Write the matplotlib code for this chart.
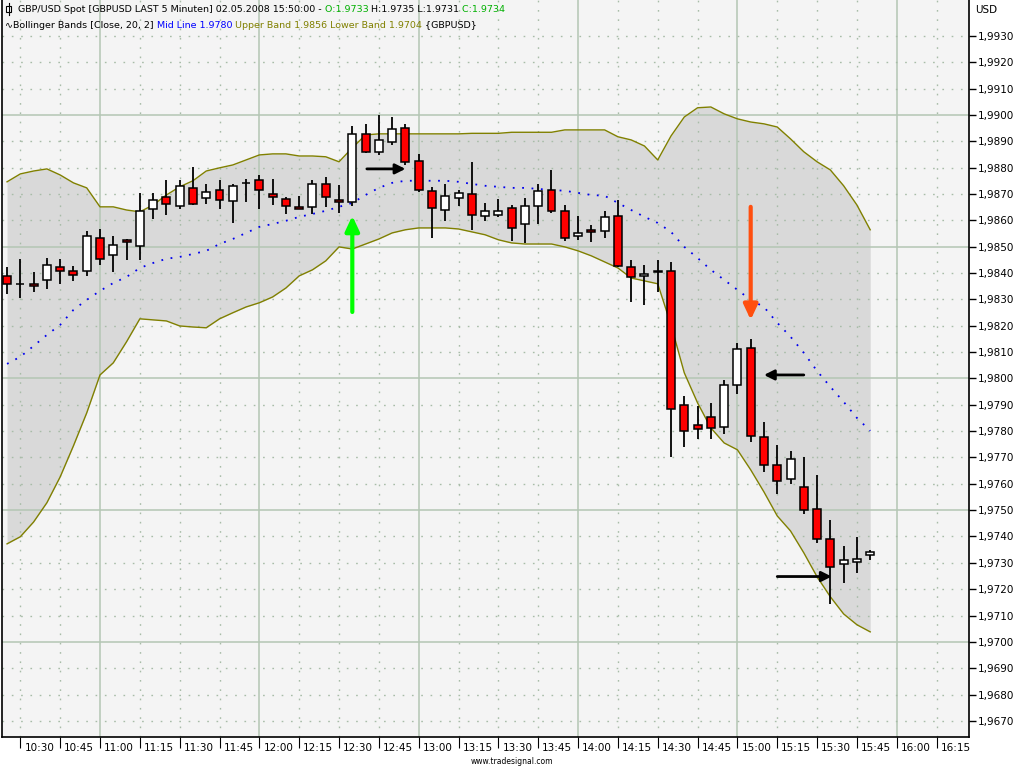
import matplotlib
matplotlib.use("Agg")
import matplotlib.pyplot as plt
from matplotlib.patches import FancyArrowPatch, Rectangle
from matplotlib.lines import Line2D
import matplotlib.transforms as mtransforms

# 5-minute bars, 10:25 .. 15:50
first_bar = "10:25"
bar_minutes = 5

opens = [1.98390, 1.98358, 1.98360, 1.98375, 1.98424, 1.98409, 1.98409, 1.98534, 1.98470, 1.98527,
         1.98504, 1.98641, 1.98690, 1.98656, 1.98724, 1.98686, 1.98716, 1.98675, 1.98741, 1.98751,
         1.98701, 1.98682, 1.98652, 1.98652, 1.98739, 1.98678, 1.98668, 1.98927, 1.98858, 1.98896,
         1.98949, 1.98824, 1.98710, 1.98638, 1.98684, 1.98699, 1.98615, 1.98619, 1.98646, 1.98585,
         1.98653, 1.98714, 1.98634, 1.98539, 1.98562, 1.98558, 1.98615, 1.98422, 1.98390, 1.98404,
         1.98409, 1.97900, 1.97824, 1.97854, 1.97816, 1.97976, 1.98116, 1.97778, 1.97672, 1.97618,
         1.97587, 1.97504, 1.97390, 1.97295, 1.97303, 1.97330]
highs = [1.98422, 1.98453, 1.98403, 1.98456, 1.98452, 1.98425, 1.98558, 1.98566, 1.98542, 1.98530,
         1.98703, 1.98703, 1.98751, 1.98751, 1.98804, 1.98739, 1.98751, 1.98739, 1.98758, 1.98770,
         1.98758, 1.98690, 1.98694, 1.98751, 1.98766, 1.98735, 1.98956, 1.98966, 1.99000, 1.98992,
         1.98966, 1.98852, 1.98725, 1.98738, 1.98715, 1.98822, 1.98665, 1.98680, 1.98657, 1.98684,
         1.98738, 1.98791, 1.98657, 1.98615, 1.98581, 1.98634, 1.98676, 1.98451, 1.98432, 1.98451,
         1.98441, 1.97935, 1.97897, 1.97905, 1.97992, 1.98133, 1.98148, 1.97833, 1.97748, 1.97725,
         1.97700, 1.97634, 1.97462, 1.97363, 1.97399, 1.97350]
lows = [1.98320, 1.98305, 1.98328, 1.98339, 1.98358, 1.98368, 1.98389, 1.98430, 1.98403, 1.98449,
        1.98449, 1.98605, 1.98620, 1.98644, 1.98659, 1.98663, 1.98644, 1.98591, 1.98670, 1.98641,
        1.98659, 1.98622, 1.98641, 1.98622, 1.98652, 1.98629, 1.98656, 1.98855, 1.98849, 1.98884,
        1.98808, 1.98706, 1.98534, 1.98599, 1.98656, 1.98565, 1.98599, 1.98611, 1.98523, 1.98515,
        1.98584, 1.98627, 1.98523, 1.98524, 1.98516, 1.98534, 1.98424, 1.98290, 1.98280, 1.98328,
        1.97701, 1.97739, 1.97770, 1.97770, 1.97789, 1.97941, 1.97758, 1.97643, 1.97563, 1.97601,
        1.97485, 1.97375, 1.97143, 1.97222, 1.97263, 1.97310]
closes = [1.98359, 1.98358, 1.98350, 1.98432, 1.98409, 1.98394, 1.98542, 1.98454, 1.98508, 1.98519,
          1.98637, 1.98678, 1.98663, 1.98732, 1.98663, 1.98709, 1.98678, 1.98732, 1.98741, 1.98716,
          1.98690, 1.98656, 1.98644, 1.98739, 1.98690, 1.98671, 1.98927, 1.98858, 1.98904, 1.98946,
          1.98820, 1.98714, 1.98648, 1.98691, 1.98703, 1.98619, 1.98634, 1.98634, 1.98570, 1.98653,
          1.98710, 1.98634, 1.98532, 1.98551, 1.98554, 1.98611, 1.98428, 1.98386, 1.98397, 1.98404,
          1.97885, 1.97801, 1.97809, 1.97813, 1.97976, 1.98113, 1.97782, 1.97671, 1.97610, 1.97694,
          1.97500, 1.97390, 1.97285, 1.97310, 1.97315, 1.97340]

# Bollinger Bands [Close, 20, 2] as displayed
upper = [1.98746, 1.98776, 1.98787, 1.98795, 1.98772, 1.98742, 1.98723, 1.98651, 1.98651, 1.98639,
         1.98632, 1.98658, 1.98696, 1.98727, 1.98750, 1.98787, 1.98799, 1.98810, 1.98829, 1.98848,
         1.98852, 1.98852, 1.98844, 1.98844, 1.98841, 1.98822, 1.98875, 1.98924, 1.98928, 1.98928,
         1.98928, 1.98928, 1.98928, 1.98928, 1.98928, 1.98930, 1.98930, 1.98930, 1.98934, 1.98934,
         1.98934, 1.98934, 1.98943, 1.98943, 1.98943, 1.98943, 1.98917, 1.98905, 1.98882, 1.98829,
         1.98920, 1.98992, 1.99027, 1.99030, 1.99004, 1.98985, 1.98973, 1.98966, 1.98954, 1.98909,
         1.98860, 1.98822, 1.98791, 1.98731, 1.98658, 1.98564]
mid = [1.98055, 1.98082, 1.98123, 1.98165, 1.98203, 1.98260, 1.98298, 1.98332, 1.98362, 1.98385,
       1.98419, 1.98438, 1.98454, 1.98461, 1.98472, 1.98484, 1.98510, 1.98529, 1.98552, 1.98575,
       1.98586, 1.98598, 1.98613, 1.98624, 1.98636, 1.98651, 1.98666, 1.98696, 1.98723, 1.98742,
       1.98750, 1.98750, 1.98750, 1.98750, 1.98746, 1.98738, 1.98731, 1.98727, 1.98723, 1.98723,
       1.98719, 1.98715, 1.98712, 1.98704, 1.98696, 1.98693, 1.98666, 1.98639, 1.98613, 1.98590,
       1.98556, 1.98499, 1.98457, 1.98412, 1.98374, 1.98336, 1.98298, 1.98271, 1.98211, 1.98158,
       1.98097, 1.98028, 1.97968, 1.97911, 1.97850, 1.97801]
lower = [1.97372, 1.97399, 1.97455, 1.97528, 1.97626, 1.97744, 1.97869, 1.98013, 1.98059, 1.98139,
         1.98226, 1.98222, 1.98218, 1.98199, 1.98195, 1.98192, 1.98226, 1.98249, 1.98271, 1.98287,
         1.98309, 1.98343, 1.98389, 1.98412, 1.98446, 1.98499, 1.98491, 1.98510, 1.98529, 1.98552,
         1.98564, 1.98571, 1.98571, 1.98571, 1.98567, 1.98556, 1.98545, 1.98526, 1.98514, 1.98510,
         1.98510, 1.98510, 1.98499, 1.98484, 1.98465, 1.98442, 1.98419, 1.98381, 1.98370, 1.98359,
         1.98203, 1.98021, 1.97907, 1.97812, 1.97755, 1.97729, 1.97653, 1.97569, 1.97478, 1.97421,
         1.97338, 1.97247, 1.97171, 1.97106, 1.97065, 1.97038]

time_labels = ["10:30", "10:45", "11:00", "11:15", "11:30", "11:45", "12:00", "12:15",
               "12:30", "12:45", "13:00", "13:15", "13:30", "13:45", "14:00", "14:15",
               "14:30", "14:45", "15:00", "15:15", "15:30", "15:45", "16:00", "16:15"]
price_levels = [1.9670, 1.9680, 1.9690, 1.9700, 1.9710, 1.9720, 1.9730, 1.9740, 1.9750,
                1.9760, 1.9770, 1.9780, 1.9790, 1.9800, 1.9810, 1.9820, 1.9830, 1.9840,
                1.9850, 1.9860, 1.9870, 1.9880, 1.9890, 1.9900, 1.9910, 1.9920, 1.9930]

# hand-drawn arrows: (bar from, price from, bar to, price to, colour)
arrows = [
    (26.0, 1.98252, 26.0, 1.98617, "#00ff00"),
    (27.1, 1.98795, 30.0, 1.98795, "black"),
    (56.0, 1.98651, 56.0, 1.98222, "#ff4f0f"),
    (60.0, 1.98013, 57.0, 1.98013, "black"),
    (58.0, 1.97248, 62.1, 1.97248, "black"),
]


def minutes(s):
    h, m = s.split(":")
    return int(h) * 60 + int(m)


x = list(range(len(opens)))
tick_pos = [(minutes(t) - minutes(first_bar)) / bar_minutes for t in time_labels]

fig = plt.figure(figsize=(10.24, 7.68), dpi=100)
fig.patch.set_facecolor("white")
ax = fig.add_axes([2 / 1024, 31 / 768, 967 / 1024, 737 / 768])
ax.set_facecolor("#f4f4f4")
ax.set_xlim(-0.38, 72.44)
ax.set_ylim(1.96639, 1.99436)

# grid
grid_col = "#b4c6b4"
for p, t in zip(tick_pos, time_labels):
    if t.endswith(":00"):
        ax.axvline(p, color=grid_col, lw=1.1, zorder=1)
    else:
        ax.axvline(p, color="#a8bca8", lw=1.0, ls=(0, (1.2, 5.5)), zorder=1)
for lv in price_levels:
    if round(lv * 10000) % 50 == 0:
        ax.axhline(lv, color=grid_col, lw=1.1, zorder=1)
    else:
        ax.axhline(lv, color="#a8bca8", lw=1.0, ls=(0, (1.2, 5.5)), zorder=1)

# bands
ax.fill_between(x, lower, upper, color="#d9d9d9", lw=0, zorder=0.5)
ax.plot(x, upper, color="#808000", lw=1.0, zorder=2)
ax.plot(x, lower, color="#808000", lw=1.0, zorder=2)
ax.plot(x, mid, color="#0000ee", lw=1.3, ls=(0, (1, 4.2)), zorder=2)

# candles
ax.vlines(x, lows, highs, color="black", lw=1.3, zorder=3)
body_col, body_bot, body_h = [], [], []
for o, c in zip(opens, closes):
    if c > o:
        body_col.append("white")
    elif c < o:
        body_col.append("#ff0000")
    else:
        body_col.append("black")
    body_bot.append(min(o, c))
    body_h.append(max(abs(c - o), 0.00002))
ax.bar(x, body_h, bottom=body_bot, width=0.6, color=body_col,
       edgecolor="black", linewidth=1.1, zorder=4)

# arrows
for x0, y0, x1, y1, col in arrows:
    if col == "black":
        style, lw = "-|>,head_length=0.6,head_width=0.3", 2.0
    else:
        style, lw = "-|>,head_length=0.9,head_width=0.42", 3.0
    ax.add_patch(FancyArrowPatch((x0, y0), (x1, y1), arrowstyle=style, color=col,
                                 lw=lw, mutation_scale=10, shrinkA=0, shrinkB=0, zorder=5))

# axes
ax.spines["top"].set_visible(False)
for side in ["left", "right", "bottom"]:
    ax.spines[side].set_color("black")
    ax.spines[side].set_linewidth(1.2)

ax.yaxis.tick_right()
ax.set_yticks(price_levels)
ax.set_yticklabels([f"{v:.4f}".replace(".", ",") for v in price_levels])
ax.tick_params(axis="y", direction="out", length=5, width=1, pad=1, labelsize=7.5)

ax.set_xticks(tick_pos)
ax.set_xticklabels(time_labels)
ax.tick_params(axis="x", direction="out", length=8, width=0.8, pad=-4, labelsize=7.5)
offset = mtransforms.ScaledTranslation(4 / 100, 0, fig.dpi_scale_trans)
for lbl in ax.get_xticklabels():
    lbl.set_horizontalalignment("left")
    lbl.set_transform(lbl.get_transform() + offset)

fig.text(975 / 1024, 1 - 10 / 768, "USD", fontsize=7.5, va="center", ha="left")
fig.text(512 / 1024, 1 - 762 / 768, "www.tradesignal.com", fontsize=5.5, va="center", ha="center")

# header lines with coloured parts
renderer = fig.canvas.get_renderer()


def header(x0, y0, parts):
    xx = x0
    for s, col in parts:
        t = fig.text(xx, y0, s, color=col, fontsize=6.8, va="center", ha="left", zorder=10)
        bb = t.get_window_extent(renderer=renderer)
        xx = bb.x1 / fig.bbox.width


green = "#00b000"
olive = "#808000"
header(18 / 1024, 1 - 9 / 768, [
    ("GBP/USD Spot [GBPUSD LAST 5 Minuten] 02.05.2008 15:50:00 -", "black"),
    (" O:1.9733", green),
    (" H:1.9735 L:1.9731", "black"),
    (" C:1.9734", green),
])
header(5 / 1024, 1 - 25 / 768, [
    ("∿Bollinger Bands [Close, 20, 2]", "black"),
    (" Mid Line 1.9780", "#0000ff"),
    (" Upper Band 1.9856 Lower Band 1.9704", olive),
    (" {GBPUSD}", "black"),
])
# small candle icon before the title
fig.add_artist(Rectangle((6 / 1024, 1 - 12 / 768), 5 / 1024, 6 / 768, transform=fig.transFigure,
                         facecolor="white", edgecolor="black", lw=0.8))
fig.add_artist(Line2D([8.5 / 1024, 8.5 / 1024], [1 - 15 / 768, 1 - 3 / 768],
                      transform=fig.transFigure, color="black", lw=0.8))

fig.savefig("out.png", dpi=100)
